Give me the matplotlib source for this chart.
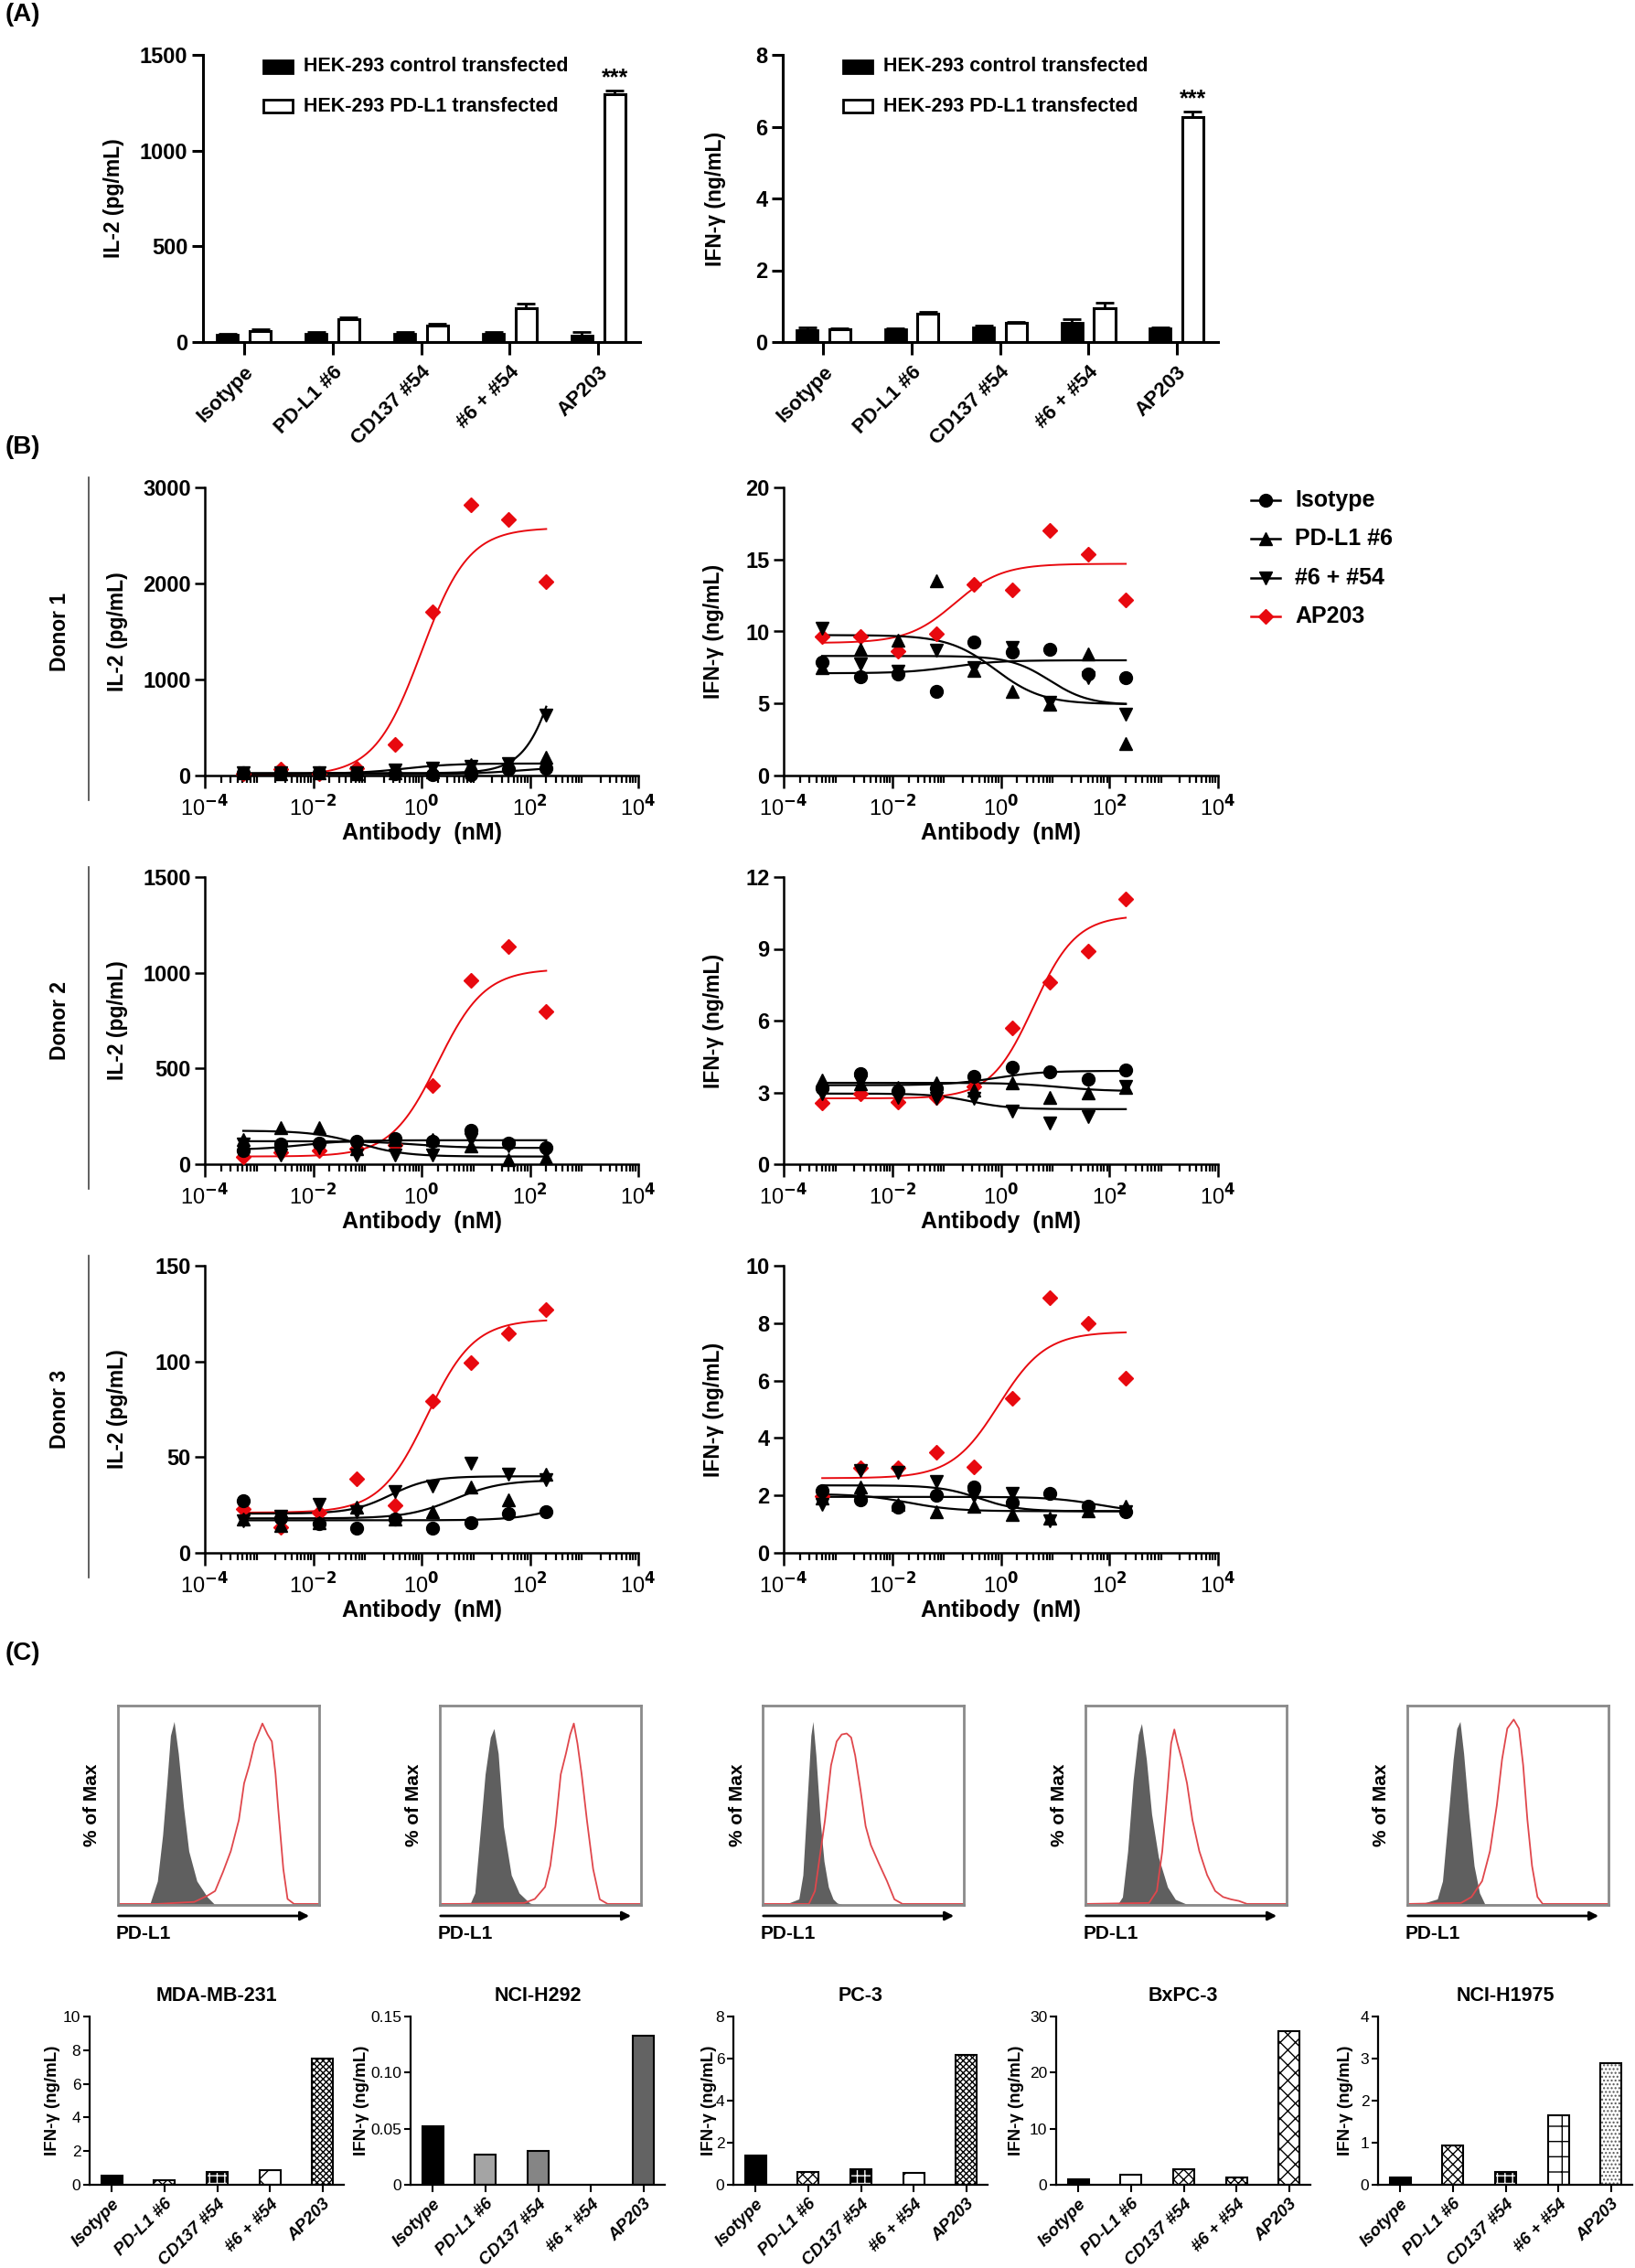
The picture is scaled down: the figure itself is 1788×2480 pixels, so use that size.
import numpy as np
import matplotlib
matplotlib.use('Agg')
import matplotlib.pyplot as plt
from matplotlib.patches import Rectangle, FancyArrowPatch
from matplotlib.lines import Line2D
from matplotlib.ticker import FixedLocator, NullFormatter

W, H = 1788, 2480
NARROW = ['Liberation Sans Narrow', 'Liberation Sans', 'DejaVu Sans']
WIDE = ['Liberation Sans', 'DejaVu Sans']
plt.rcParams['font.family'] = NARROW
plt.rcParams['font.weight'] = 'bold'

# ---------------- data ----------------
cats = ['Isotype', 'PD-L1 #6', 'CD137 #54', '#6 + #54', 'AP203']

# panel A (HEK-293 co-culture)
il2_ctrl = [40, 41, 41, 45, 32]
il2_ctrl_err = [4, 10, 10, 9, 22]
il2_pdl1 = [59, 118, 86, 175, 1296]
il2_pdl1_err = [8, 12, 9, 27, 18]
ifn_ctrl = [0.34, 0.36, 0.40, 0.54, 0.39]
ifn_ctrl_err = [0.06, 0.02, 0.06, 0.10, 0.02]
ifn_pdl1 = [0.36, 0.80, 0.54, 0.93, 6.28]
ifn_pdl1_err = [0.02, 0.05, 0.03, 0.17, 0.15]

# panel B (dose response, nM)
conc = [0.000512, 0.00256, 0.0128, 0.064, 0.32, 1.6, 8, 40, 200]
series = ['Isotype', 'PD-L1 #6', '#6 + #54', 'AP203']

d1_il2 = {'Isotype': [30, 25, 30, 20, 20, 10, 10, 63, 80],
          'PD-L1 #6': [30, 20, 30, 20, 30, 40, 111, 110, 190],
          '#6 + #54': [30, 30, 30, 30, 60, 80, 100, 120, 625],
          'AP203': [20, 63, 20, 80, 324, 1705, 2816, 2667, 2016]}
d1_ifn = {'Isotype': [7.9, 6.84, 7.05, 5.82, 9.27, 8.57, 8.74, 7.05, 6.77],
          'PD-L1 #6': [7.5, 8.78, 9.42, 13.54, 7.3, 5.82, 4.93, 8.47, 2.22],
          '#6 + #54': [10.2, 7.72, 7.24, 8.68, 7.5, 8.9, 5.08, 6.77, 4.23],
          'AP203': [9.63, 9.67, 8.64, 9.84, 13.3, 12.87, 17.04, 15.34, 12.17]}
d2_il2 = {'Isotype': [72, 103, 111, 119, 135, 119, 175, 111, 87],
          'PD-L1 #6': [127, 191, 191, 80, 127, 127, 95, 24, 32],
          '#6 + #54': [103, 48, 87, 48, 48, 48, 127, 95, 64],
          'AP203': [40, 64, 72, 80, 100, 413, 962, 1137, 800]}
d2_ifn = {'Isotype': [3.18, 3.78, 3.05, 3.18, 3.65, 4.07, 3.85, 3.56, 3.94],
          'PD-L1 #6': [3.5, 3.37, 3.2, 3.4, 3.1, 3.4, 2.8, 2.99, 3.2],
          '#6 + #54': [2.93, 3.44, 2.8, 2.74, 2.74, 2.23, 1.72, 1.97, 3.25],
          'AP203': [2.55, 2.93, 2.58, 2.8, 3.24, 5.69, 7.6, 8.91, 11.1]}
d3_il2 = {'Isotype': [27, 18.3, 15.4, 12.7, 17.5, 12.7, 15.9, 20.7, 21.5],
          'PD-L1 #6': [17.5, 14.3, 15.9, 23.8, 17.5, 21.5, 34.2, 27.8, 41.3],
          '#6 + #54': [16.7, 19.1, 25.4, 21.5, 31.8, 35, 46.9, 41.3, 38],
          'AP203': [23, 13.6, 20.8, 38.6, 24.8, 79.2, 99.4, 114.5, 126.9]}
d3_ifn = {'Isotype': [2.17, 1.86, 1.59, 2.01, 2.28, 1.75, 2.07, 1.64, 1.43],
          'PD-L1 #6': [1.9, 2.28, 1.7, 1.43, 1.64, 1.33, 1.2, 1.48, 1.64],
          '#6 + #54': [1.7, 2.86, 2.8, 2.49, 1.96, 2.07, 1.11, 1.48, 1.43],
          'AP203': [1.96, 2.97, 2.97, 3.5, 3.0, 5.38, 8.9, 7.99, 6.08]}

# 4PL fit parameters: (low-conc value, high-conc value, logEC50, hill)
f1_il2 = {'Isotype': (15, 90, 1.8, 1.0), 'PD-L1 #6': (20, 125, -0.3, 1.0),
          '#6 + #54': (25, 3000, 2.7, 1.3), 'AP203': (0, 2580, 0.0, 1.0)}
f1_ifn = {'Isotype': (7.1, 8.0, -0.9, 1.0), 'PD-L1 #6': (9.75, 4.95, -0.1, 1.0),
          '#6 + #54': (8.3, 4.9, 0.9, 1.2), 'AP203': (9.2, 14.7, -0.85, 1.0)}
f2_il2 = {'Isotype': (75, 125, -2.2, 1.0), 'PD-L1 #6': (175, 40, -1.15, 1.0),
          '#6 + #54': (120, 85, -0.1, 1.0), 'AP203': (40, 1020, 0.3, 1.0)}
f2_ifn = {'Isotype': (3.3, 3.9, -0.1, 1.0), 'PD-L1 #6': (3.4, 3.05, 1.07, 1.0),
          '#6 + #54': (2.95, 2.3, -0.55, 1.2), 'AP203': (2.75, 10.4, 0.6, 1.1)}
f3_il2 = {'Isotype': (17, 30, 2.6, 1.0), 'PD-L1 #6': (18, 38, 0.6, 1.0),
          '#6 + #54': (20.5, 40, -0.57, 1.2), 'AP203': (21, 122, 0.1, 1.0)}
f3_ifn = {'Isotype': (1.95, 1.4, 1.8, 1.0), 'PD-L1 #6': (2.05, 1.45, -1.7, 1.0),
          '#6 + #54': (2.35, 1.45, -0.4, 1.2), 'AP203': (2.6, 7.7, -0.04, 1.0)}

# panel C histograms (PD-L1 intensity 0-100, % of max)
cell_lines = ['MDA-MB-231', 'NCI-H292', 'PC-3', 'BxPC-3', 'NCI-H1975']
iso_x = [[0, 15.7, 19.6, 22.2, 24.3, 26.1, 27.9, 30.0, 32.6, 35.2, 39.2, 44.4, 48.3, 100],
         [0, 14.8, 17.4, 19.9, 22.5, 25.1, 26.9, 29.0, 31.6, 35.5, 39.4, 44.6, 47.2, 100],
         [0, 10, 13, 18, 20, 22, 24, 25, 26.5, 28.6, 30.5, 32.7, 35, 37, 40, 100],
         [0, 15.8, 18.4, 21, 23.7, 26.3, 27.9, 30.3, 32.9, 36.3, 40.8, 44.7, 50, 100],
         [0, 8.4, 14.9, 17.5, 20.2, 22.8, 24.6, 26.2, 28, 30.6, 33.2, 35.9, 38.5, 100]]
iso_y = [[0, 0, 12, 35, 61, 85, 92, 76, 49, 27, 12, 4, 0, 0],
         [0, 0, 6, 35, 65.5, 84, 88.5, 76, 39.5, 15, 6, 1, 0, 0],
         [0, 0, 1, 3, 15, 50, 85, 92, 75, 42.6, 22, 9, 3, 1, 0, 0],
         [0, 0, 4, 27, 62.5, 85.5, 91, 73, 45.6, 24, 9, 2.8, 0.5, 0],
         [0, 1, 3, 12, 42.6, 73, 88.5, 92, 76, 45.6, 19.6, 6, 0.5, 0]]
pdl1_x = [[0, 19.6, 37.9, 44.4, 48.3, 52.2, 56.1, 60.1, 62.7, 65.3, 67.9, 71.8, 74.4, 76.5, 78.3, 79.6, 82.2, 84.3, 87.5, 100],
          [0, 8.3, 42.0, 47.2, 52.3, 54.9, 57.5, 60.1, 62.7, 64.8, 66.6, 68.4, 70.5, 73.1, 76.2, 79.5, 83.4, 100],
          [0, 23, 26, 31, 34, 36.8, 39.3, 41.8, 44, 46, 48.6, 51.2, 53.8, 57.7, 61.8, 65.5, 69.5, 100],
          [0, 31.6, 35.5, 38.2, 40.8, 42.6, 44.2, 45.5, 47.9, 50.5, 53.2, 56.6, 60.5, 64.5, 68.4, 72.4, 76.3, 80.3, 100],
          [0, 26.7, 31.9, 37.2, 41.1, 44.5, 47.1, 49.7, 52.9, 55.5, 57.6, 59.7, 62, 64.7, 67.3, 100]]
pdl1_y = [[0.5, 0.5, 1.5, 4.6, 7, 16.5, 27, 42.6, 61, 70, 81, 91, 85.5, 82, 66, 49, 18, 3, 0.5, 0.5],
          [0.5, 0.5, 1, 3, 9, 19.6, 39.5, 65.5, 76, 85.5, 91, 81, 65.5, 42.6, 18, 2.8, 0.5, 0.5],
          [0.5, 0.5, 7, 42.6, 70, 82, 85.5, 86, 84, 75, 58, 39.5, 30, 21, 12, 2.8, 0.5, 0.5],
          [0.5, 1, 7, 27, 58, 81, 88, 82, 73, 61, 42.6, 27, 15, 7, 4, 2.8, 2, 0.5, 0.5],
          [0.5, 1, 4, 12, 27, 50, 73, 88.5, 93, 88.5, 70, 42.6, 19.6, 4, 0.5, 0.5]]

# panel C IFN-gamma bars (ng/mL)
ifn_c = [[0.54, 0.29, 0.76, 0.87, 7.52],
         [0.052, 0.027, 0.030, 0, 0.133],
         [1.37, 0.59, 0.74, 0.55, 6.19],
         [0.98, 1.74, 2.77, 1.36, 27.4],
         [0.18, 0.94, 0.30, 1.65, 2.89]]
ifn_c_ymax = [10, 0.15, 8, 30, 4]
ifn_c_ticks = [[0, 2, 4, 6, 8, 10], [0, 0.05, 0.10, 0.15], [0, 2, 4, 6, 8],
               [0, 10, 20, 30], [0, 1, 2, 3, 4]]
ifn_c_ticklabels = [None, ['0', '0.05', '0.10', '0.15'], None, None, None]

# ---------------- helpers ----------------
fig = plt.figure(figsize=(W / 100, H / 100), dpi=100)


def px_axes(x0, y0, x1, y1):
    return fig.add_axes([x0 / W, 1 - y1 / H, (x1 - x0) / W, (y1 - y0) / H])


def ftext(x, y, s, **kw):
    return fig.text(x / W, 1 - y / H, s, **kw)


def clean(ax, lw):
    for s in ['top', 'right']:
        ax.spines[s].set_visible(False)
    for s in ['left', 'bottom']:
        ax.spines[s].set_linewidth(lw)


# ---------------- panel A ----------------
def panel_a(box, ctrl, ctrl_err, pdl1, pdl1_err, ymax, yticks, ylabel, ylab_x):
    ax = px_axes(*box)
    pos = np.arange(len(cats))
    ax.bar(pos - 0.185, ctrl, 0.24, color='black', edgecolor='black', lw=2, zorder=2)
    ax.bar(pos + 0.185, pdl1, 0.24, color='white', edgecolor='black', lw=2.2, zorder=2)
    ax.errorbar(pos - 0.185, ctrl, yerr=[np.zeros(len(ctrl)), ctrl_err], fmt='none',
                ecolor='black', elinewidth=2, capsize=7, capthick=2, zorder=3)
    ax.errorbar(pos + 0.185, pdl1, yerr=[np.zeros(len(pdl1)), pdl1_err], fmt='none',
                ecolor='black', elinewidth=2, capsize=7, capthick=2, zorder=3)
    ax.text(pos[-1] + 0.185, pdl1[-1] + pdl1_err[-1] + ymax * 0.005, '***',
            ha='center', va='bottom', fontsize=18, fontweight='bold')
    ax.set_xlim(-0.46, 4.47)
    ax.set_ylim(0, ymax)
    ax.set_yticks(yticks)
    ax.set_xticks(pos)
    ax.set_xticklabels(cats, rotation=45, ha='right', rotation_mode='anchor',
                       fontsize=16, fontweight='bold')
    ax.tick_params(axis='y', length=9, width=2.2, labelsize=17, pad=3)
    ax.tick_params(axis='x', length=10, width=2.2, pad=6)
    clean(ax, 2.2)
    x0, y0, x1, y1 = box
    ftext(ylab_x, (y0 + y1) / 2, ylabel, rotation=90, ha='center', va='center',
          fontsize=16.5, fontweight='bold', family=WIDE)
    # legend
    lx = x0 + 66
    for yy, fc, lab in [(73, 'black', 'HEK-293 control transfected'),
                        (116, 'white', 'HEK-293 PD-L1 transfected')]:
        fig.add_artist(Rectangle((lx / W, 1 - (yy + 7) / H), 32 / W, 14 / H,
                                 transform=fig.transFigure, facecolor=fc,
                                 edgecolor='black', lw=2))
        ftext(lx + 44, yy, lab, ha='left', va='center', fontsize=15.5, fontweight='bold')


panel_a((222, 60, 700, 374), il2_ctrl, il2_ctrl_err, il2_pdl1, il2_pdl1_err,
        1500, [0, 500, 1000, 1500], 'IL-2 (pg/mL)', 124)
panel_a((856, 60, 1332, 374), ifn_ctrl, ifn_ctrl_err, ifn_pdl1, ifn_pdl1_err,
        8, [0, 2, 4, 6, 8], 'IFN-γ (ng/mL)', 782)

# ---------------- panel B ----------------
markers = {'Isotype': 'o', 'PD-L1 #6': '^', '#6 + #54': 'v', 'AP203': 'D'}
colors = {'Isotype': 'black', 'PD-L1 #6': 'black', '#6 + #54': 'black', 'AP203': '#e8090f'}
msizes = {'Isotype': 10, 'PD-L1 #6': 10, '#6 + #54': 10, 'AP203': 8}


def dose_panel(box, vals, fits, ymax, yticks, ylabel, ylab_x):
    ax = px_axes(*box)
    ax.set_xscale('log')
    xs = np.logspace(np.log10(conc[0]), np.log10(conc[-1]), 300)
    for name in ['AP203', 'Isotype', 'PD-L1 #6', '#6 + #54']:
        lo, hi, lec, hill = fits[name]
        curve = lo + (hi - lo) / (1 + 10 ** ((lec - np.log10(xs)) * hill))
        ax.plot(xs, curve, color=colors[name], lw=1.4 if name == 'AP203' else 1.6,
                zorder=2, clip_on=False)
    for name in ['AP203', 'Isotype', 'PD-L1 #6', '#6 + #54']:
        ax.plot(conc, vals[name], ls='none', marker=markers[name], ms=msizes[name],
                color=colors[name], mec=colors[name], zorder=3, clip_on=False)
    ax.set_xlim(1e-4, 1e4)
    ax.set_ylim(0, ymax)
    ax.set_yticks(yticks)
    ax.set_xticks([1e-4, 1e-2, 1, 1e2, 1e4])
    ax.set_xticklabels(['10$^{-4}$', '10$^{-2}$', '10$^{0}$', '10$^{2}$', '10$^{4}$'],
                       fontweight='normal', fontsize=17)
    ax.xaxis.set_minor_locator(FixedLocator([k * 10.0 ** e for e in range(-4, 4) for k in range(2, 10)]))
    ax.xaxis.set_minor_formatter(NullFormatter())
    ax.tick_params(axis='x', which='major', length=10, width=1.8, pad=6)
    ax.tick_params(axis='x', which='minor', length=6, width=1.6)
    ax.tick_params(axis='y', length=8, width=1.8, labelsize=17, pad=3)
    clean(ax, 1.8)
    x0, y0, x1, y1 = box
    ftext(ylab_x, (y0 + y1) / 2, ylabel, rotation=90, ha='center', va='center',
          fontsize=16.5, fontweight='bold', family=WIDE)
    ftext((x0 + x1) / 2, y1 + 63, 'Antibody  (nM)', ha='center', va='center',
          fontsize=18, fontweight='bold')
    return ax


rows = [(533, 848), (959, 1273), (1384, 1698)]
left_data = [(d1_il2, f1_il2, 3000, [0, 1000, 2000, 3000]),
             (d2_il2, f2_il2, 1500, [0, 500, 1000, 1500]),
             (d3_il2, f3_il2, 150, [0, 50, 100, 150])]
right_data = [(d1_ifn, f1_ifn, 20, [0, 5, 10, 15, 20]),
              (d2_ifn, f2_ifn, 12, [0, 3, 6, 9, 12]),
              (d3_ifn, f3_ifn, 10, [0, 2, 4, 6, 8, 10])]
for i, (ya, yb) in enumerate(rows):
    v, f, ym, yt = left_data[i]
    dose_panel((224, ya, 698, yb), v, f, ym, yt, 'IL-2 (pg/mL)', 129)
    v, f, ym, yt = right_data[i]
    dose_panel((857, ya, 1332, yb), v, f, ym, yt, 'IFN-γ (ng/mL)', 780)
    ftext(65, (ya + yb) / 2, 'Donor %d' % (i + 1), rotation=90, ha='center', va='center',
          fontsize=16.5, fontweight='bold', family=WIDE)
    fig.add_artist(Line2D([97 / W, 97 / W], [1 - (ya - 11) / H, 1 - (yb + 27) / H],
                          transform=fig.transFigure, color='#444444', lw=1.2))

# legend of panel B
for k, name in enumerate(series):
    yy = 547 + k * 42.3
    fig.add_artist(Line2D([1368 / W, 1400 / W], [1 - yy / H, 1 - yy / H],
                          transform=fig.transFigure, color=colors[name], lw=1.8))
    fig.add_artist(Line2D([1384 / W], [1 - yy / H], transform=fig.transFigure,
                          marker=markers[name], ms=msizes[name], color=colors[name], ls='none'))
    ftext(1416, yy, name, ha='left', va='center', fontsize=18, fontweight='bold')

# ---------------- panel C ----------------
hist_left = [129, 481, 834, 1187, 1539]
for i in range(5):
    x0 = hist_left[i]
    ax = px_axes(x0, 1865, x0 + 220, 2083)
    ax.fill_between(iso_x[i], iso_y[i], 0, color='#5f5f5f', lw=0)
    ax.plot(pdl1_x[i], pdl1_y[i], color='#e0474c', lw=1.3)
    ax.set_xlim(0, 100)
    ax.set_ylim(0, 100)
    ax.set_xticks([])
    ax.set_yticks([])
    for s in ax.spines.values():
        s.set_color('#8a8a8a')
        s.set_linewidth(2)
    fig.add_artist(FancyArrowPatch(((x0 - 2) / W, 1 - 2095 / H), ((x0 + 212) / W, 1 - 2095 / H),
                                   transform=fig.transFigure, arrowstyle='-|>',
                                   mutation_scale=14, lw=2, color='black'))
    ftext(x0 - 2, 2114, 'PD-L1', ha='left', va='center', fontsize=15, fontweight='bold')
    ftext(x0 - 28, 1974, '% of Max', rotation=90, ha='center', va='center',
          fontsize=15, fontweight='bold', family=WIDE)

# bar fill styles: (face, hatch, hatch colour)
bar_styles = [
    [('black', None, 'black'), ('white', 'xxx', 'black'), ('black', '++', 'white'),
     ('white', 'x', 'black'), ('white', 'xxxxx', 'black')],
    [('black', None, 'black'), ('#a4a4a4', None, 'black'), ('#858585', None, 'black'),
     ('#858585', None, 'black'), ('#636363', None, 'black')],
    [('black', None, 'black'), ('white', 'xxx', 'black'), ('black', '++', 'white'),
     ('white', 'x', 'black'), ('white', 'xxxxx', 'black')],
    [('black', None, 'black'), ('white', None, 'black'), ('white', 'xxx', 'black'),
     ('white', 'xxxx', 'black'), ('white', 'xx', 'black')],
    [('black', None, 'black'), ('white', 'xxx', 'black'), ('black', '++', 'white'),
     ('white', '+', 'black'), ('white', '....', '#555555')],
]
bar_left = [98, 449, 802, 1155, 1507]
ylab_off = [41, 53, 27, 43, 36]
for i in range(5):
    x0 = bar_left[i]
    ax = px_axes(x0, 2205, x0 + 278, 2389)
    pos = np.arange(5)
    for j in range(5):
        fc, hatch, hc = bar_styles[i][j]
        if ifn_c[i][j] <= 0:
            continue
        ax.bar(pos[j], ifn_c[i][j], 0.4, color=fc, hatch=hatch, edgecolor=hc, lw=0, zorder=2)
        ax.bar(pos[j], ifn_c[i][j], 0.4, fill=False, edgecolor='black', lw=1.5, zorder=3)
    ax.set_xlim(-0.42, 4.4)
    ax.set_ylim(0, ifn_c_ymax[i])
    ax.set_yticks(ifn_c_ticks[i])
    if ifn_c_ticklabels[i]:
        ax.set_yticklabels(ifn_c_ticklabels[i])
    ax.set_xticks(pos)
    ax.set_xticklabels(cats, rotation=45, ha='right', rotation_mode='anchor',
                       fontsize=13.5, fontstyle='italic', fontweight='bold')
    ax.tick_params(axis='y', length=5, width=1.5, labelsize=12.5, pad=2)
    ax.tick_params(axis='x', length=6, width=1.5, pad=3)
    for lab in ax.get_yticklabels():
        lab.set_fontweight('normal')
    clean(ax, 1.6)
    ftext(x0 + 139, 2182, cell_lines[i], ha='center', va='center', fontsize=15.5, fontweight='bold')
    ftext(x0 - ylab_off[i], 2297, 'IFN-γ (ng/mL)', rotation=90, ha='center', va='center',
          fontsize=13.5, fontweight='bold', family=WIDE)

# panel letters
ftext(6, 16, '(A)', ha='left', va='center', fontsize=20, fontweight='bold')
ftext(6, 489, '(B)', ha='left', va='center', fontsize=20, fontweight='bold')
ftext(6, 1808, '(C)', ha='left', va='center', fontsize=20, fontweight='bold')

fig.savefig('out.png', dpi=100, facecolor='white')
